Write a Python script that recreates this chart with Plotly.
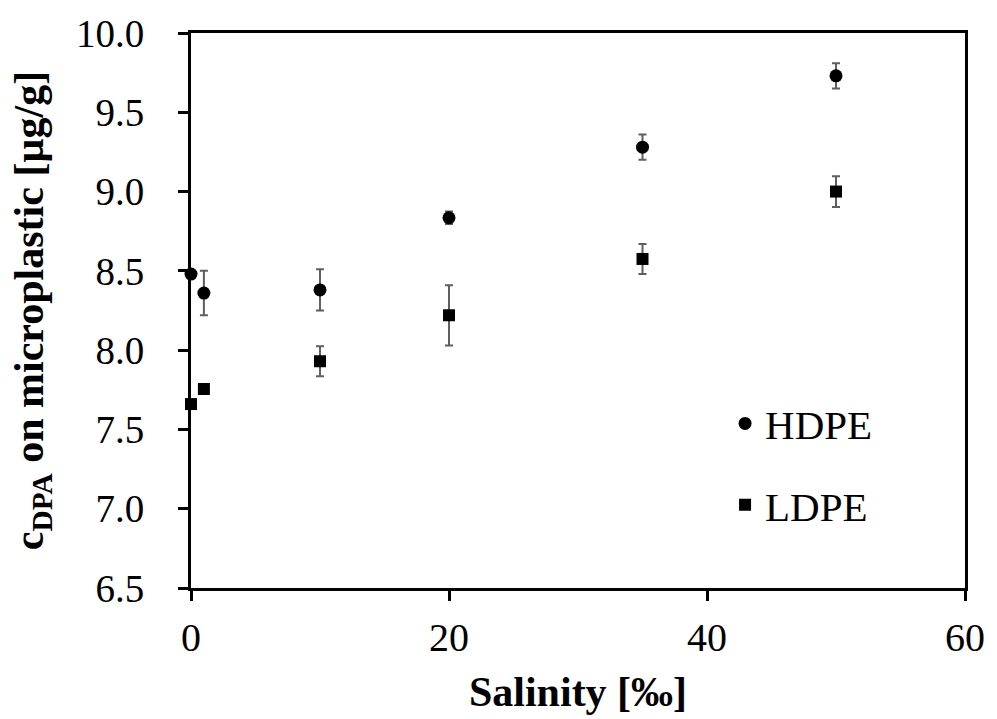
import plotly.graph_objects as go

salinity = [0, 1, 10, 20, 35, 50]
hdpe = [8.48, 8.36, 8.38, 8.835, 9.28, 9.73]
hdpe_err = [0.0, 0.14, 0.13, 0.04, 0.08, 0.08]
ldpe = [7.66, 7.755, 7.93, 8.22, 8.575, 9.00]
ldpe_err = [0.0, 0.0, 0.095, 0.19, 0.095, 0.097]

FONT = "Liberation Serif"
ERRC = "#5f5f5f"

fig = go.Figure()
fig.add_trace(go.Scatter(
    x=salinity, y=hdpe, mode="markers", name="HDPE", legendgroup="a",
    marker=dict(symbol="circle", size=13, color="black"),
    error_y=dict(type="data", array=hdpe_err, visible=True, color=ERRC, thickness=2, width=4),
    cliponaxis=False,
))
fig.add_trace(go.Scatter(
    x=salinity, y=ldpe, mode="markers", name="LDPE", legendgroup="b",
    marker=dict(symbol="square", size=12, color="black"),
    error_y=dict(type="data", array=ldpe_err, visible=True, color=ERRC, thickness=2, width=4),
    cliponaxis=False,
))

fig.update_layout(
    width=997, height=719,
    margin=dict(l=191, r=26, t=31, b=128),
    paper_bgcolor="white", plot_bgcolor="white",
    font=dict(family=FONT, size=39, color="black"),
    showlegend=True,
    legend=dict(
        x=0.69, y=0.223, xanchor="left", yanchor="middle",
        bgcolor="rgba(0,0,0,0)", font=dict(size=41, family=FONT),
        tracegroupgap=25, itemwidth=30,
    ),
    xaxis=dict(
        range=[0, 60], dtick=20, tick0=0,
        showline=True, linecolor="black", linewidth=3, mirror=True,
        ticks="outside", ticklen=10, tickwidth=3, tickcolor="black",
        showgrid=False, zeroline=False,
        tickfont=dict(family=FONT, size=40),
        ticklabelstandoff=2,
        title=dict(text="<b>Salinity [‰]</b>", font=dict(family=FONT, size=42), standoff=18),
    ),
    yaxis=dict(
        range=[6.5, 10.0], dtick=0.5, tick0=6.5, tickformat=".1f",
        showline=True, linecolor="black", linewidth=3, mirror=True,
        ticks="outside", ticklen=10, tickwidth=3, tickcolor="black",
        showgrid=False, zeroline=False,
        tickfont=dict(family=FONT, size=39),
        ticklabelstandoff=26,
        title=dict(text="<b>c<sub>DPA</sub> on microplastic [µg/g]</b>", font=dict(family=FONT, size=42), standoff=20),
    ),
)

fig.write_html("out.html")
